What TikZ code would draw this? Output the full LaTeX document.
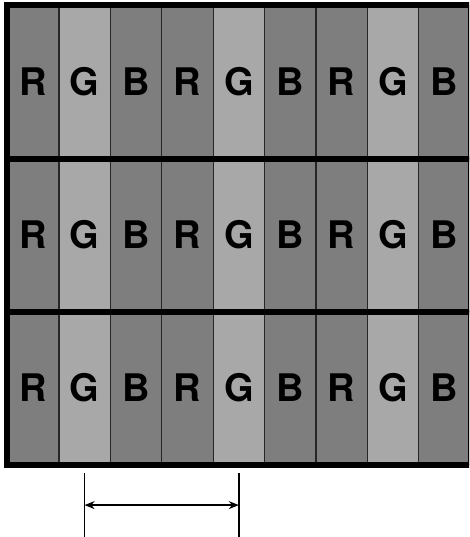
\documentclass[tikz,border=0pt]{standalone}
\usepackage{fontspec}
\setsansfont{TeX Gyre Heros}
\usetikzlibrary{arrows.meta,calc}

\definecolor{subdark}{RGB}{126,126,126}
\definecolor{sublight}{RGB}{168,168,168}

\begin{document}
\begin{tikzpicture}[
    x=1pt, y=-1pt,
    cell/.style={draw=black!85, line width=1.2pt, minimum width=51.4pt, minimum height=153pt, inner sep=0pt, font=\sffamily\bfseries\fontsize{38}{38}\selectfont},
    frame/.style={line width=6pt},
    tick/.style={line width=1.4pt},
    arrow/.style={{Stealth[length=10pt,width=8pt]}-{Stealth[length=10pt,width=8pt]}, line width=1.4pt},
]
\useasboundingbox (0,0) rectangle (469,537);
\clip (0,0) rectangle (469,537);

% ================== Subpixel columns ==================
\foreach \r in {1,2,3} {
  \foreach \c/\txt/\shade in {1/R/subdark, 2/G/sublight, 3/B/subdark,
                              4/R/subdark, 5/G/sublight, 6/B/subdark,
                              7/R/subdark, 8/G/sublight, 9/B/subdark} {
    \node[cell, fill=\shade] (c\r\c) at ({7.5+51.4*(\c-0.5)}, {5.5+153*(\r-0.5)}) {\txt};
  }
}

% ================== Pixel rows and frame ==================
\draw[frame] (c11.south west) -- (c19.south east);
\draw[frame] (c21.south west) -- (c29.south east);
\draw[frame] (c11.north west) rectangle (c39.south east);

% ================== Pitch ==================
\path (c32.south) ++(0,8) coordinate (tickLtop) ++(0,32) coordinate (arrowL) ++(0,33) coordinate (tickLbot);
\path (c35.south) ++(0,8) coordinate (tickRtop) ++(0,32) coordinate (arrowR) ++(0,33) coordinate (tickRbot);

\draw[tick] (tickLtop) -- (tickLbot);
\draw[tick] (tickRtop) -- (tickRbot);
\draw[arrow] (arrowL) -- (arrowR);

\end{tikzpicture}
\end{document}
